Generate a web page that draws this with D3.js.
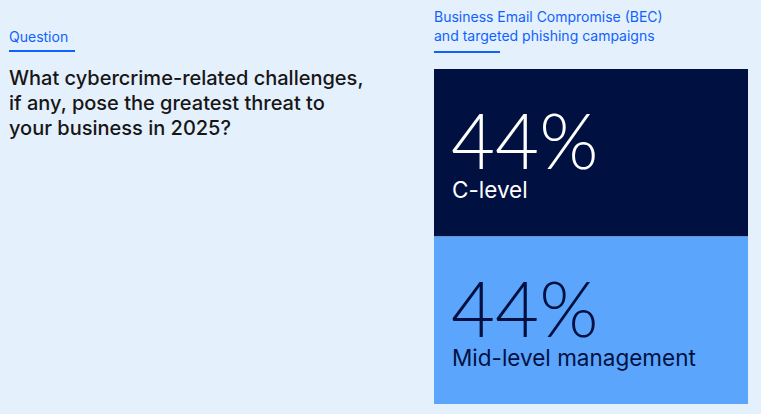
<!DOCTYPE html>
<html><head><meta charset="utf-8">
<script src="https://cdn.jsdelivr.net/npm/d3@7"></script>
<style>body{margin:0;background:#e5f0fd;}svg{display:block;}</style>
</head><body>
<script>
const categories = ["C-level", "Mid-level management"];
const values = [44, 44];
const title = ["Business Email Compromise (BEC)", "and targeted phishing campaigns"];
const question = ["What cybercrime-related challenges,", "if any, pose the greatest threat to", "your business in 2025?"];
const fills = ["#001141", "#5ba5fd"];
const textFills = ["#ffffff", "#001141"];

const W = 761, H = 414;
const svg = d3.select("body").append("svg").attr("width", W).attr("height", H);
svg.append("rect").attr("width", W).attr("height", H).attr("fill", "#e5f0fd");
const font = "Inter, 'Noto Sans', sans-serif";

svg.append("text").attr("x", 9).attr("y", 42).attr("font-family", font).attr("font-size", 14)
  .attr("fill", "#0f62fe").text("Question");
svg.append("rect").attr("x", 9).attr("y", 50).attr("width", 66).attr("height", 2).attr("fill", "#0f62fe");
svg.append("g").selectAll("text").data(question).join("text")
  .attr("x", 9).attr("y", (d, i) => 85 + i * 25).attr("font-family", font).attr("font-size", 20)
  .attr("font-weight", 500).attr("fill", "#161616").text(d => d);

svg.append("g").selectAll("text").data(title).join("text")
  .attr("x", 434).attr("y", (d, i) => 22 + i * 19).attr("font-family", font).attr("font-size", 14)
  .attr("fill", "#0f62fe").text(d => d);
svg.append("rect").attr("x", 434).attr("y", 51).attr("width", 66).attr("height", 2).attr("fill", "#0f62fe");

const y = d3.scaleBand().domain(categories).range([69, 404]).padding(0);
const g = svg.append("g").selectAll("g").data(categories).join("g")
  .attr("transform", d => `translate(434,${y(d)})`);
g.append("rect").attr("width", 314).attr("height", y.bandwidth()).attr("fill", (d, i) => fills[i]);
g.append("text").attr("x", 17).attr("y", 100).attr("font-family", "Lato, sans-serif").attr("font-weight", 300)
  .attr("font-size", 76).attr("fill", (d, i) => textFills[i]).text((d, i) => values[i] + "%");
g.append("text").attr("x", 18).attr("y", 129).attr("font-family", font).attr("font-size", 22.5)
  .attr("fill", (d, i) => textFills[i]).text(d => d);
</script>
</body></html>
